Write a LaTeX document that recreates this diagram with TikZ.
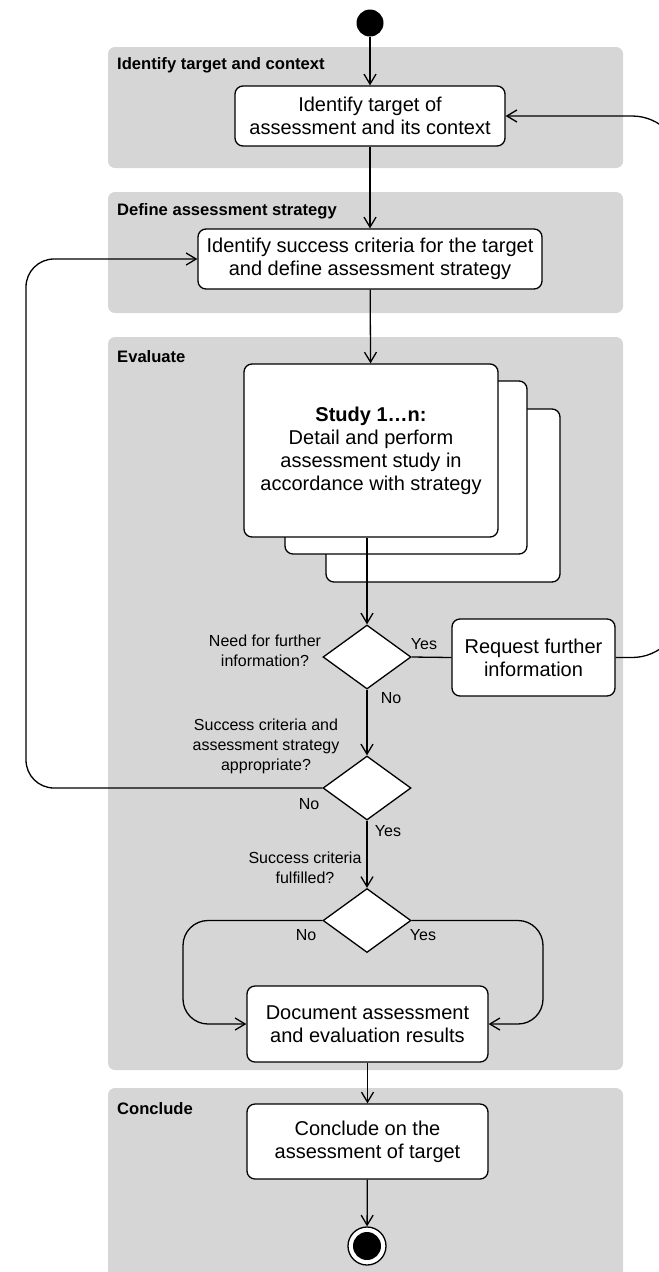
\documentclass[tikz,border=0pt]{standalone}
\usepackage{fontspec}
\setmainfont{Liberation Sans}
\usetikzlibrary{arrows.meta,shapes.geometric}

\definecolor{lanegray}{HTML}{D6D6D6}

\begin{document}
\begin{tikzpicture}[x=1bp,y=-1bp,
  lane/.style={fill=lanegray, draw=none, rounded corners=7bp},
  lanetitle/.style={anchor=west, inner sep=0, font=\fontsize{16.6bp}{19bp}\selectfont\bfseries},
  act/.style={draw, line width=1.3bp, fill=white, rounded corners=8bp, align=center,
              inner sep=0, font=\fontsize{20bp}{23bp}\selectfont},
  decide/.style={draw, diamond, line width=1.3bp, fill=white, minimum width=88bp,
                 minimum height=64bp, inner sep=0},
  lbl/.style={inner sep=0, align=center, font=\fontsize{16bp}{20bp}\selectfont},
  flow/.style={line width=1.3bp, -{Straight Barb[length=10bp,width=12bp]}},
  plain/.style={line width=1.3bp},
]
\useasboundingbox (0,0) rectangle (659,1272);

% swimlanes
\fill[lane] (108,47) rectangle (623,168);
\fill[lane] (108,192) rectangle (623,313);
\fill[lane] (108,337) rectangle (623,1070);
\fill[lane] (108,1088) rectangle (623,1300);

\node[lanetitle] (t1) at (117,65) {Identify target and context};
\node[lanetitle] (t2) at (117,211) {Define assessment strategy};
\node[lanetitle] (t3) at (117,357) {Evaluate};
\node[lanetitle] (t4) at (117,1109) {Conclude};

% initial state
\node[circle, fill=black, minimum size=27bp, inner sep=0] (start) at (370,23) {};

% activities
\node[act, minimum width=270bp, minimum height=60bp] (b1) at (370,116)
  {Identify target of\\assessment and its context};
\node[act, minimum width=344bp, minimum height=60bp] (b2) at (370,259)
  {Identify success criteria for the target\\and define assessment strategy};

% stacked study boxes
\node[act, minimum width=234bp, minimum height=173bp] (s3) at (443,495.5) {};
\node[act, minimum width=242bp, minimum height=173bp] (s2) at (406,467.5) {};
\node[act, minimum width=254bp, minimum height=173bp] (s1) at (371,450.5)
  {\textbf{Study 1…n:}\\Detail and perform\\assessment study in\\accordance with strategy};

% decisions
\node[decide] (d1) at (367,657) {};
\node[act, minimum width=163bp, minimum height=77bp] (req) at (533.5,657.5)
  {Request further\\information};
\node[decide] (d2) at (367,788) {};
\node[decide] (d3) at (367,920.5) {};

\node[act, minimum width=241bp, minimum height=76bp] (doc) at (367.5,1024)
  {Document assessment\\and evaluation results};
\node[act, minimum width=241bp, minimum height=75bp] (conc) at (367.5,1141.5)
  {Conclude on the\\assessment of target};

% final state
\node[circle, draw, line width=1.3bp, fill=white, minimum size=38bp, inner sep=0] (endring) at (367,1246) {};
\node[circle, fill=black, minimum size=28bp, inner sep=0] (enddot) at (endring.center) {};

% guard and question labels
\node[lbl] (q1) at (265,651) {Need for further\\information?};
\node[lbl] (y1) at (424,644) {Yes};
\node[lbl] (n1) at (391,698) {No};
\node[lbl] (q2) at (266,746) {Success criteria and\\assessment strategy\\appropriate?};
\node[lbl] (n2) at (309,804) {No};
\node[lbl] (y2) at (388,831) {Yes};
\node[lbl] (q3) at (305,868) {Success criteria\\fulfilled?};
\node[lbl] (n3) at (306,935) {No};
\node[lbl] (y3) at (423,935) {Yes};

% bend columns for the loop-back connectors
\coordinate (loopL) at (26,0);
\coordinate (loopR) at (682,0);
\coordinate (bendL) at (183,0);
\coordinate (bendR) at (543,0);

% connectors
\draw[flow] (start) -- (b1);
\draw[flow] (b1) -- (b2);
\draw[flow] (b2) -- (s1);
\draw[flow] (s1.south -| d1.north) -- (d1.north);
\draw[plain] (d1.east) -- (req.west);
\draw[flow, rounded corners=50bp] (req.east) -| (loopR |- b1.east) -- (b1.east);
\draw[flow] (d1.south) -- (d2.north);
\draw[flow, rounded corners=28bp] (d2.west) -| (loopL |- b2.west) -- (b2.west);
\draw[flow] (d2.south) -- (d3.north);
\draw[flow, rounded corners=25bp] (d3.west) -| (bendL |- doc.west) -- (doc.west);
\draw[flow, rounded corners=25bp] (d3.east) -| (bendR |- doc.east) -- (doc.east);
\draw[flow] (doc) -- (conc);
\draw[flow] (conc) -- (endring);
\end{tikzpicture}
\end{document}
